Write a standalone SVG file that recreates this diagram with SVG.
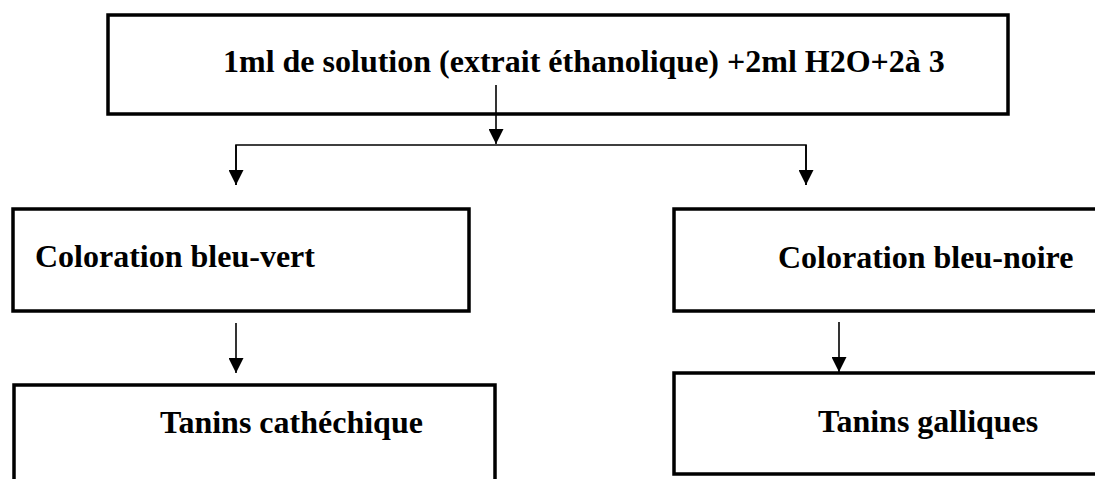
<svg xmlns="http://www.w3.org/2000/svg" width="1095" height="479" viewBox="0 0 1095 479">
<style>
.box{fill:#fff;stroke:#000;stroke-width:3.5}
.lbl{font-family:"Liberation Serif","Times New Roman",serif;font-weight:bold;font-size:32px;fill:#000}
.con{fill:none;stroke:#000;stroke-width:1.6}
</style>
<defs>
<marker id="ah" markerWidth="15" markerHeight="15" viewBox="0 0 15 15" refX="15" refY="7.5" orient="auto" markerUnits="userSpaceOnUse">
<path d="M0,0 L15,7.5 L0,15 Z" fill="#000"/>
</marker>
</defs>
<rect width="1095" height="479" fill="#fff"/>
<g id="n-top">
<rect class="box" x="108" y="15" width="900" height="99"/>
<text class="lbl" x="223" y="72">1ml de solution (extrait éthanolique) +2ml H2O+2à 3</text>
</g>
<g id="n-bleu-vert">
<rect class="box" x="13" y="209" width="456" height="102"/>
<text class="lbl" x="35" y="267">Coloration bleu-vert</text>
</g>
<g id="n-bleu-noire">
<rect class="box" x="674" y="209" width="430" height="102"/>
<text class="lbl" x="778" y="268">Coloration bleu-noire</text>
</g>
<g id="n-catechique">
<rect class="box" x="14" y="385" width="481" height="110"/>
<text class="lbl" x="160" y="433">Tanins cathéchique</text>
</g>
<g id="n-galliques">
<rect class="box" x="674" y="373" width="430" height="101"/>
<text class="lbl" x="818" y="432">Tanins galliques</text>
</g>
<g id="connectors">
<line class="con" x1="496" y1="85" x2="496" y2="144" marker-end="url(#ah)"/>
<polyline class="con" points="236,185 236,145 806,145 806,185"/>
<line class="con" x1="236" y1="145" x2="236" y2="185" marker-end="url(#ah)"/>
<line class="con" x1="806" y1="145" x2="806" y2="185" marker-end="url(#ah)"/>
<line class="con" x1="236" y1="323" x2="236" y2="373" marker-end="url(#ah)"/>
<line class="con" x1="839" y1="322" x2="839" y2="372" marker-end="url(#ah)"/>
</g>
</svg>
